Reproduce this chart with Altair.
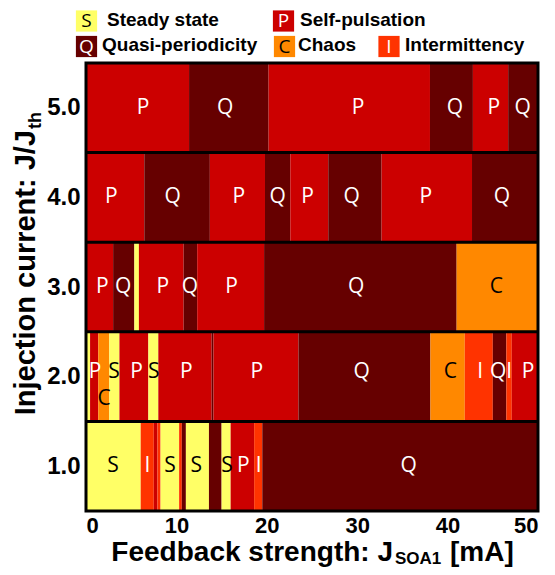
import altair as alt
import pandas as pd

# ---------------- data ----------------
states = ["S", "P", "Q", "C", "I"]
state_names = ["Steady state", "Self-pulsation", "Quasi-periodicity", "Chaos", "Intermittency"]
state_colors = ["#FFFF66", "#CC0000", "#660000", "#FF8800", "#FF3300"]
dark_text_states = ["S", "C"]

injection = [1.0, 2.0, 3.0, 4.0, 5.0]
x_ticks = [0, 10, 20, 30, 40, 50]

edges_1 = [0, 6.05, 7.5, 7.9, 8.25, 10.3, 10.6, 11.05, 13.6, 15.0, 16.0, 18.6, 19.5, 50]
states_1 = ["S", "I", "P", "I", "S", "I", "Q", "S", "Q", "S", "P", "I", "Q"]
edges_2 = [0, 0.45, 1.36, 2.58, 3.7, 6.9, 8.0, 13.9, 14.1, 23.5, 38.1, 41.9, 45.0, 46.5, 47.1, 50]
states_2 = ["S", "P", "C", "S", "P", "S", "P", "Q", "P", "Q", "C", "I", "Q", "I", "P"]
edges_3 = [0, 3.0, 5.35, 5.85, 10.8, 12.3, 19.7, 41.0, 50]
states_3 = ["P", "Q", "S", "P", "Q", "P", "Q", "C"]
edges_4 = [0, 6.45, 13.7, 19.8, 22.6, 26.8, 32.7, 42.7, 50]
states_4 = ["P", "Q", "P", "Q", "P", "Q", "P", "Q"]
edges_5 = [0, 11.4, 20.2, 38.05, 42.8, 46.7, 50]
states_5 = ["P", "Q", "P", "Q", "P", "Q"]

# segment labels: position along the feedback axis, letter, vertical shift (row units)
labels_1_x = [3.0, 6.8, 9.3, 12.2, 15.6, 17.4, 19.1, 35.7]
labels_1_t = ["S", "I", "S", "S", "S", "P", "I", "Q"]
labels_1_dy = [0, 0, 0, 0, 0, 0, 0, 0]
labels_2_x = [1.0, 2.0, 3.1, 5.6, 7.5, 11.1, 18.9, 30.5, 40.3, 43.6, 45.6, 46.8, 48.9]
labels_2_t = ["P", "C", "S", "P", "S", "P", "P", "Q", "C", "I", "Q", "I", "P"]
labels_2_dy = [0.05, -0.25, 0.05, 0.05, 0.05, 0.05, 0.05, 0.05, 0.05, 0.05, 0.05, 0.05, 0.05]
labels_3_x = [1.8, 4.1, 8.5, 11.5, 16.1, 29.9, 45.4]
labels_3_t = ["P", "Q", "P", "Q", "P", "Q", "C"]
labels_3_dy = [0, 0, 0, 0, 0, 0, 0]
labels_4_x = [2.8, 9.6, 16.9, 21.2, 24.5, 29.4, 37.6, 46.0]
labels_4_t = ["P", "Q", "P", "Q", "P", "Q", "P", "Q"]
labels_4_dy = [0, 0, 0, 0, 0, 0, 0, 0]
labels_5_x = [6.3, 15.4, 30.1, 40.8, 45.1, 48.3]
labels_5_t = ["P", "Q", "P", "Q", "P", "Q"]
labels_5_dy = [0, 0, 0, 0, 0, 0]

# ---------------- tables ----------------
all_edges = [edges_1, edges_2, edges_3, edges_4, edges_5]
all_states = [states_1, states_2, states_3, states_4, states_5]
seg_rows = []
for j, ed, st in zip(injection, all_edges, all_states):
    for i, s in enumerate(st):
        seg_rows.append({"J": j, "x0": ed[i], "x1": ed[i + 1], "state": s,
                         "y0": j - 0.5, "y1": j + 0.5})
seg = pd.DataFrame(seg_rows)

all_lx = [labels_1_x, labels_2_x, labels_3_x, labels_4_x, labels_5_x]
all_lt = [labels_1_t, labels_2_t, labels_3_t, labels_4_t, labels_5_t]
all_ldy = [labels_1_dy, labels_2_dy, labels_3_dy, labels_4_dy, labels_5_dy]
lab_rows = []
for j, xs, ts, dys in zip(injection, all_lx, all_lt, all_ldy):
    for x, t, d in zip(xs, ts, dys):
        lab_rows.append({"x": x, "y": j + d, "t": t})
lab = pd.DataFrame(lab_rows)

seps = pd.DataFrame({"yb": [(a + b) / 2 for a, b in zip(injection[:-1], injection[1:])]})
frame = pd.DataFrame({"x0": [x_ticks[0]], "x1": [x_ticks[-1]],
                      "y0": [injection[0] - 0.5], "y1": [injection[-1] + 0.5]})

# ---------------- layout ----------------
W, H = 452, 448
XMIN, XMAX = 0, 50
YMIN, YMAX = 0.5, 5.5


def px_x(p):
    return XMIN + p * (XMAX - XMIN) / W


def px_y(p):
    return YMAX - p * (YMAX - YMIN) / H


# legend layout (plot pixels): box centre x, row, text start x
leg_box_x = [0.5, 197.5, 0.5, 198.5, 303]
leg_row_y = [-42, -42, -16.5, -16.5, -16.5]
leg_text_x = [21, 214, 16, 212, 319]
leg = pd.DataFrame({
    "code": states, "name": state_names,
    "bx": [px_x(v) for v in leg_box_x],
    "by": [px_y(v) for v in leg_row_y],
    "tx": [px_x(v) for v in leg_text_x],
    "ty": [px_y(v - 1.5) for v in leg_row_y],
})

xscale = alt.Scale(domain=[XMIN, XMAX], nice=False, zero=False)
yscale = alt.Scale(domain=[YMIN, YMAX], nice=False, zero=False)
cscale = alt.Scale(domain=states, range=state_colors)
dark_test = " || ".join([f"datum.{{f}} == '{s}'" for s in dark_text_states])

AX_FONT = "Liberation Sans"
LETTER_FONT = "Open Sans"

rects = alt.Chart(seg).mark_rect().encode(
    x=alt.X("x0:Q", scale=xscale,
            axis=alt.Axis(values=x_ticks, title=None, grid=False, ticks=False, domain=False,
                          labelFont=AX_FONT, labelFontWeight="bold", labelFontSize=22,
                          labelColor="black", labelPadding=4)),
    x2="x1:Q",
    y=alt.Y("y0:Q", scale=yscale,
            axis=alt.Axis(values=injection, format=".1f", title=None, grid=False, ticks=False,
                          domain=False, labelFont=AX_FONT, labelFontWeight="bold",
                          labelFontSize=24, labelColor="black", labelPadding=6)),
    y2="y1:Q",
    color=alt.Color("state:N", scale=cscale, legend=None),
)

sep_rules = alt.Chart(seps).mark_rule(color="black", strokeWidth=3).encode(y=alt.Y("yb:Q", scale=yscale))

frame_rect = alt.Chart(frame).mark_rect(filled=False, stroke="black", strokeWidth=3).encode(
    x=alt.X("x0:Q", scale=xscale), x2="x1:Q", y=alt.Y("y0:Q", scale=yscale), y2="y1:Q")

seg_text = alt.Chart(lab).mark_text(font=LETTER_FONT, fontSize=21, baseline="middle").encode(
    x=alt.X("x:Q", scale=xscale), y=alt.Y("y:Q", scale=yscale), text="t:N",
    color=alt.condition(dark_test.format(f="t"), alt.value("black"), alt.value("white")),
)

leg_box = alt.Chart(leg).mark_square(size=450, opacity=1).encode(
    x=alt.X("bx:Q", scale=xscale), y=alt.Y("by:Q", scale=yscale),
    color=alt.Color("code:N", scale=cscale, legend=None),
)
leg_letter = alt.Chart(leg).mark_text(font=LETTER_FONT, fontSize=19, baseline="middle").encode(
    x=alt.X("bx:Q", scale=xscale), y=alt.Y("by:Q", scale=yscale), text="code:N",
    color=alt.condition(dark_test.format(f="code"), alt.value("black"), alt.value("white")),
)
leg_name = alt.Chart(leg).mark_text(font=AX_FONT, fontWeight="bold", fontSize=19, align="left",
                                    baseline="middle", color="black").encode(
    x=alt.X("tx:Q", scale=xscale), y=alt.Y("ty:Q", scale=yscale), text="name:N")

# axis titles with subscripts
xt_main = alt.Chart(pd.DataFrame({"t": ["Feedback strength: J"]})).mark_text(
    font=AX_FONT, fontWeight="bold", fontSize=28, align="right", baseline="alphabetic", color="black"
).encode(x=alt.value(307), y=alt.value(H + 50), text="t:N")
xt_sub = alt.Chart(pd.DataFrame({"t": ["SOA1"]})).mark_text(
    font=AX_FONT, fontWeight="bold", fontSize=17, align="left", baseline="alphabetic", color="black"
).encode(x=alt.value(309), y=alt.value(H + 53), text="t:N")
xt_unit = alt.Chart(pd.DataFrame({"t": ["[mA]"]})).mark_text(
    font=AX_FONT, fontWeight="bold", fontSize=28, align="left", baseline="alphabetic", color="black"
).encode(x=alt.value(364), y=alt.value(H + 50), text="t:N")

yt_main = alt.Chart(pd.DataFrame({"t": ["Injection current: J/J"]})).mark_text(
    font=AX_FONT, fontWeight="bold", fontSize=29, align="right", baseline="alphabetic",
    angle=270, color="black"
).encode(x=alt.value(-51), y=alt.value(67), text="t:N")
yt_sub = alt.Chart(pd.DataFrame({"t": ["th"]})).mark_text(
    font=AX_FONT, fontWeight="bold", fontSize=18, align="left", baseline="alphabetic",
    angle=270, color="black"
).encode(x=alt.value(-45), y=alt.value(66), text="t:N")

chart = alt.layer(
    rects, sep_rules, frame_rect, seg_text, leg_box, leg_letter, leg_name,
    xt_main, xt_sub, xt_unit, yt_main, yt_sub
).properties(
    width=W, height=H,
    autosize=alt.AutoSizeParams(type="none"),
    padding={"left": 78, "top": 55, "right": 9, "bottom": 56},
).configure_view(stroke=None)

chart.save("out.html", embed_options={"renderer": "svg", "actions": False})
